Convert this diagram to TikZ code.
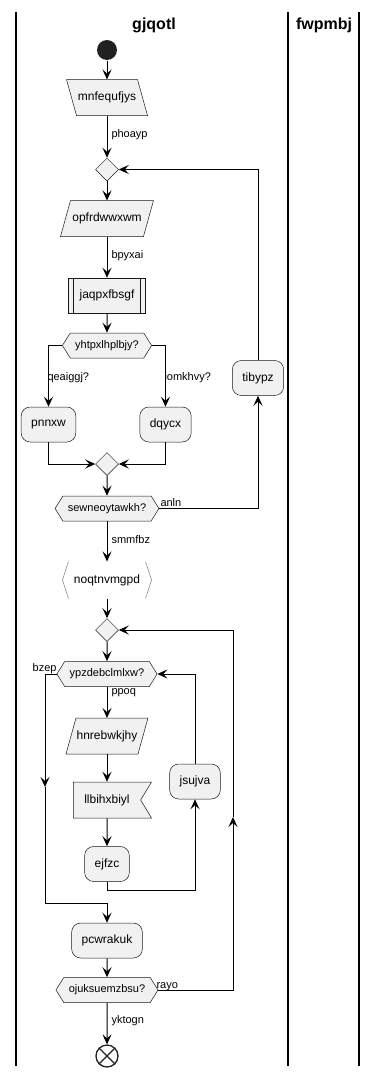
\documentclass[tikz,border=0pt]{standalone}
\usepackage{fontspec}
\setmainfont{Liberation Sans}
\usetikzlibrary{shapes.geometric}
\usetikzlibrary{shapes.symbols}
\usetikzlibrary{arrows.meta}
\usetikzlibrary{backgrounds}
\definecolor{boxfill}{HTML}{F1F1F1}
\definecolor{boxline}{HTML}{181818}
\tikzstyle{action} = [rectangle, rounded corners=9pt, fill=boxfill, draw=boxline,
line width=0.5pt, minimum height=35pt, inner xsep=10pt, font=\fontsize{12}{14}\selectfont]
\tikzstyle{iobox} = [rectangle, minimum height=35pt, font=\fontsize{12}{14}\selectfont]
\tikzstyle{ioshape} = [fill=boxfill, draw=boxline, line width=0.5pt]
\tikzstyle{subbox} = [action, sharp corners, inner xsep=11pt]
\tikzstyle{flagbox} = [action, sharp corners, signal, signal to=nowhere, signal from=east,
signal pointer angle=118, minimum height=36pt, inner xsep=11pt]
\tikzstyle{bracketbox} = [rectangle, minimum height=36pt, inner xsep=5pt, font=\fontsize{12}{14}\selectfont]
\tikzstyle{bracket} = [draw=black!45, line width=0.6pt]
\tikzstyle{decision} = [action, sharp corners, signal, signal to=west and east,
signal pointer angle=116, minimum height=25pt, inner xsep=5pt, inner ysep=2pt,
font=\fontsize{11}{13}\selectfont]
\tikzstyle{merge} = [diamond, fill=boxfill, draw=boxline, line width=0.5pt,
minimum size=23pt, inner sep=0pt]
\tikzstyle{guard} = [font=\fontsize{11}{13}\selectfont, inner sep=0pt]
\tikzstyle{lanetitle} = [font=\fontsize{16}{18}\selectfont\bfseries]
\tikzstyle{lane} = [line width=1.5pt]
\tikzstyle{startnode} = [circle, fill=black!87, minimum size=20pt, inner sep=0pt]
\tikzstyle{stopnode} = [circle, draw=black!87, line width=1.3pt, fill=white,
minimum size=22pt, inner sep=0pt]
\tikzset{>={Stealth[length=10pt,width=9pt,inset=4pt]}}
\newcommand{\flow}[3][]{ %
  % Arrow from every node in #2 to every node in #3.
  \foreach \x in {#2} { %
    \foreach \y in {#3} { %
      \path (\x) edge [->,#1] (\y) ;%
    } ;
  } ;
}

\begin{document}
\begin{tikzpicture}[x=1pt, y=-1pt, line width=1pt]
  \useasboundingbox (0,0) rectangle (378,1076);

  % swimlanes
  \draw[lane] (16,12) -- (16,1066);
  \draw[lane] (288,12) -- (288,1066);
  \draw[lane] (359,12) -- (359,1066);
  \node[lanetitle] (gj) at (154,25) {gjqotl};
  \node[lanetitle] (fw) at (324,25) {fwpmbj};

  \node[startnode] (start) at (107,50) {};
  \node[iobox, minimum width=80pt] (mnf) at (107,97.5) {mnfequfjys};
  \node[merge] (m1) at (107,169.5) {};
  \node[iobox, minimum width=92pt] (opf) at (107,218.5) {opfrdwwxwm};
  \node[subbox] (jaq) at (107,295.5) {jaqpxfbsgf};
  \draw[line width=0.5pt, boxline] ([xshift=5pt]jaq.north west) -- ([xshift=5pt]jaq.south west);
  \draw[line width=0.5pt, boxline] ([xshift=-5pt]jaq.north east) -- ([xshift=-5pt]jaq.south east);
  \node[decision] (yht) at (107,345.5) {yhtpxlhplbjy?};
  \node[action] (pnn) at (48.5,424.5) {pnnxw};
  \node[action] (dqy) at (165.5,424.5) {dqycx};
  \node[merge] (m2) at (107,464) {};
  \node[decision] (sew) at (107,508.5) {sewneoytawkh?};
  \node[action] (tib) at (258,378) {tibypz};
  \node[bracketbox] (noq) at (107,580) {noqtnvmgpd};
  \draw[bracket] (noq.north west) -- ([xshift=-6pt]noq.west) -- (noq.south west);
  \draw[bracket] (noq.north east) -- ([xshift=6pt]noq.east) -- (noq.south east);
  \node[merge] (m3) at (107,630) {};
  \node[decision] (ypz) at (107,674) {ypzdebclmlxw?};
  \node[iobox, minimum width=81pt] (hnr) at (107,736) {hnrebwkjhy};
  \node[flagbox] (llb) at (107,800) {llbihxbiyl};
  \node[action] (ejf) at (107,864) {ejfzc};
  \node[action] (jsu) at (195,781.5) {jsujva};
  \node[action] (pcw) at (107,940.5) {pcwrakuk};
  \node[decision] (oju) at (107,990) {ojuksuemzbsu?};
  \node[stopnode] (stop) at (107,1056) {};
  \draw[black!87, line width=1.3pt] (stop.north west) -- (stop.south east)
    (stop.north east) -- (stop.south west);

  % slanted input boxes
  \begin{scope}[on background layer]
    \draw[ioshape] (mnf.north west) -- ([xshift=-10pt]mnf.north east)
      -- (mnf.south east) -- ([xshift=10pt]mnf.south west) -- cycle;
    \draw[ioshape] ([xshift=10pt]opf.north west) -- (opf.north east)
      -- ([xshift=-10pt]opf.south east) -- (opf.south west) -- cycle;
    \draw[ioshape] ([xshift=10pt]hnr.north west) -- (hnr.north east)
      -- ([xshift=-10pt]hnr.south east) -- (hnr.south west) -- cycle;
  \end{scope}

  % main column
  \flow {start} {mnf};
  \flow {mnf} {m1};
  \flow {m1} {opf};
  \flow {opf} {jaq};
  \flow {jaq} {yht};
  \flow {m2} {sew};
  \flow {sew} {noq};
  \flow {noq} {m3};
  \flow {m3} {ypz};
  \flow {ypz} {hnr};
  \flow {hnr} {llb};
  \flow {llb} {ejf};
  \flow {pcw} {oju};
  \flow {oju} {stop};

  % branches
  \draw[->] (yht.west) -| (pnn.north);
  \draw[->] (yht.east) -| (dqy.north);
  \draw[->] (pnn.south) |- (m2.west);
  \draw[->] (dqy.south) |- (m2.east);

  % outer repeat
  \draw[->] (sew.east) -| (tib.south);
  \draw[->] (tib.north) |- (m1.east);

  % inner while
  \draw[->] (ejf.south) -- ++(0,9) -| (jsu.south);
  \draw[->] (jsu.north) |- (ypz.east);
  \coordinate (bz) at (45,787);
  \draw[->] (ypz.west) -| (bz);
  \draw[->] (bz) |- (107,903) -- (pcw.north);

  % repeat back
  \coordinate (ry) at (233,817);
  \draw[->] (oju.east) -| (ry);
  \draw[->] (ry) |- (m3.east);

  % guards
  \node[guard, anchor=west] (phoayp) at (111,135) {phoayp};
  \node[guard, anchor=west] (bpyxai) at (111,256) {bpyxai};
  \node[guard, anchor=west] (qeaiggj) at (47,378) {qeaiggj?};
  \node[guard, anchor=west] (iomkhvy) at (164,378) {iomkhvy?};
  \node[guard, anchor=base west] (anln) at (160,506) {anln};
  \node[guard, anchor=west] (smmfbz) at (111,540) {smmfbz};
  \node[guard, anchor=base east] (bzep) at (57,671) {bzep};
  \node[guard, anchor=west] (ppoq) at (111,693) {ppoq};
  \node[guard, anchor=base west] (rayo) at (156,988) {rayo};
  \node[guard, anchor=west] (yktogn) at (111,1021) {yktogn};
\end{tikzpicture}
\end{document}
